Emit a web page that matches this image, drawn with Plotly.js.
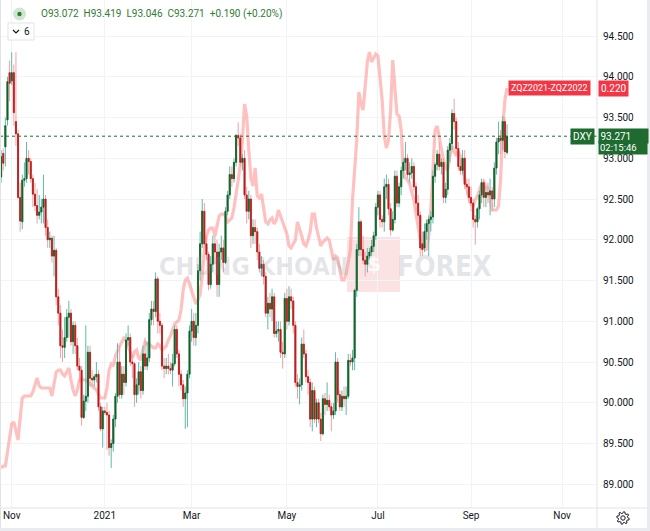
<!DOCTYPE html>
<html><head><meta charset="utf-8">
<script src="https://cdn.plot.ly/plotly-3.0.1.min.js"></script>
<style>html,body{margin:0;padding:0;background:#fff;}#chart{width:650px;height:531px;}</style>
</head><body><div id="chart"></div>
<script>
// ---------- DATA (daily bars, first bar 2020-10-26, weekdays only) ----------
const firstBar = '2020-10-26';
const openP = [
92.77,93.06,93.14,93.47,94.05, 93.95,94.05,93.45,93.30,92.52, 92.22,92.73,92.75,93.00,92.96, 92.75,92.56,92.42,92.30,92.34,
92.40,92.50,92.15,92.00,92.02, 91.80,91.87,91.30,91.10,90.70, 90.68,90.80,91.05,91.10,90.75, 90.95,90.70,90.45,90.40,89.82,
90.02,90.08,90.62,90.30,90.28, 90.32,90.35,89.95,89.68,89.90, 89.88,89.85,89.45,89.50,89.80, 90.08,90.50,90.10,90.35,90.25,
90.77,90.80,90.50,90.48,90.10, 90.22,90.38,90.15,90.60,90.45, 90.55,91.02,91.15,91.12,91.52, 91.00,90.95,90.45,90.42,90.45,
90.42,90.40,90.48,90.90,90.60, 90.35,90.22,90.05,90.12,90.35, 90.88,91.00,90.80,90.95,91.62, 91.95,92.35,91.95,91.82,91.45,
91.70,91.95,91.85,91.45,91.85, 91.90,91.72,92.35,92.55,92.80, 92.75,92.95,93.28,93.25,92.95, 93.00,92.55,92.35,92.50,92.05,
92.15,92.10,91.85,91.65,91.70, 91.55,91.10,91.22,91.15,91.30, 90.85,90.88,90.90,90.62,90.60, 91.28,91.00,91.30,91.25,90.95,
90.25,90.20,90.22,90.72,90.60, 90.32,90.25,89.80,90.15,89.80, 90.00,89.80,89.62,90.05,89.98, 90.03,89.95,89.85,89.90,90.50,
90.10,89.95,90.08,90.05,90.08, 90.52,90.50,90.55,91.38,91.88, 92.22,91.88,91.75,91.70,91.80, 91.85,91.92,92.05,92.40,92.55,
92.25,92.22,92.65,92.68,92.38, 92.12,92.25,92.78,92.45,92.65, 92.85,92.95,93.00,92.80,92.82, 92.90,92.65,92.45,92.30,91.95,
91.90,92.10,92.20,92.25,92.28, 92.78,92.92,93.05,92.90,92.95, 92.52,92.62,93.10,93.18,93.55, 93.45,93.12,92.90,92.85,93.00,
92.68,92.65,92.52,92.45,92.25, 92.22,92.38,92.55,92.70,92.52, 92.58,92.55,92.60,92.50,92.88, 93.20,93.25,93.22,93.45,93.072
];
const highP = [
93.10,93.12,93.50,94.00,94.20, 94.30,94.15,94.30,93.35,92.70, 92.80,92.95,93.20,93.10,93.00, 92.80,92.70,92.62,92.55,92.50,
92.80,92.55,92.25,92.10,92.05, 92.05,91.90,91.40,91.20,90.90, 91.05,91.15,91.25,91.15,91.00, 91.00,90.80,90.55,90.45,90.10,
90.95,90.70,90.70,90.40,90.35, 90.50,90.40,90.00,89.95,89.95, 90.00,89.90,89.55,89.85,90.12, 90.73,90.70,90.45,90.45,90.85,
90.95,90.85,90.60,90.50,90.30, 90.50,90.45,90.70,90.80,90.75, 91.10,91.25,91.25,91.60,91.55, 91.10,90.98,90.55,90.55,90.60,
90.50,90.60,90.95,90.95,90.65, 90.40,90.28,90.20,90.40,90.95, 91.15,91.10,91.10,91.70,92.10, 92.50,92.45,92.05,91.85,91.80,
92.05,92.05,92.00,91.95,92.05, 92.00,92.40,92.60,92.90,92.90, 93.00,93.30,93.44,93.30,93.05, 93.10,92.65,92.60,92.55,92.25,
92.25,92.15,91.95,91.80,91.75, 91.60,91.30,91.35,91.40,91.35, 91.00,91.00,91.00,90.75,91.35, 91.40,91.43,91.40,91.30,91.00,
90.35,90.30,90.80,90.90,90.65, 90.40,90.30,90.25,90.20,90.05, 90.05,89.88,90.10,90.12,90.25, 90.10,90.00,90.00,90.62,90.55,
90.15,90.15,90.20,90.20,90.60, 90.60,90.65,91.40,91.95,92.40, 92.25,92.05,91.85,91.90,91.90, 92.00,92.10,92.45,92.60,92.60,
92.30,92.75,92.80,92.75,92.45, 92.35,92.85,92.85,92.70,92.90, 93.00,93.20,93.05,92.95,93.00, 92.95,92.70,92.55,92.35,92.10,
92.20,92.25,92.30,92.35,92.85, 92.95,93.10,93.20,93.00,93.00, 92.70,93.15,93.25,93.60,93.73, 93.50,93.20,93.00,93.10,93.10,
92.75,92.75,92.65,92.50,92.30, 92.40,92.60,92.75,92.75,92.65, 92.70,92.75,92.65,92.95,93.25, 93.45,93.35,93.52,93.50,93.419
];
const lowP = [
92.70,92.85,92.90,93.40,93.70, 93.90,93.40,93.15,92.50,92.10, 92.13,92.65,92.70,92.80,92.70, 92.40,92.35,92.20,92.25,92.20,
92.20,92.05,91.90,91.90,91.72, 91.55,91.20,90.95,90.55,90.50, 90.55,90.75,90.80,90.70,90.60, 90.60,90.40,90.25,89.72,89.80,
89.90,90.00,90.20,90.20,90.20, 90.25,89.90,89.65,89.45,89.85, 89.42,89.35,89.20,89.40,89.70, 90.00,90.05,90.05,90.10,90.20,
90.70,90.45,90.30,89.95,90.00, 90.10,90.05,90.10,90.40,90.40, 90.50,90.95,90.95,91.05,90.85, 90.85,90.40,90.30,90.35,90.35,
90.35,90.20,90.45,90.55,90.20, 90.15,89.95,89.68,89.70,90.30, 90.75,90.70,90.70,90.85,91.50, 91.90,91.90,91.75,91.38,91.40,
91.60,91.70,91.30,91.30,91.75, 91.60,91.70,92.30,92.50,92.65, 92.70,92.90,93.15,92.90,92.85, 92.50,92.20,92.25,91.90,91.95,
91.95,91.75,91.60,91.55,91.45, 91.05,90.90,91.05,91.00,90.80, 90.80,90.75,90.55,90.42,90.55, 90.90,90.95,91.15,90.85,90.20,
90.05,89.98,90.15,90.55,90.25, 90.10,89.70,89.65,89.75,89.70, 89.75,89.53,89.60,89.85,89.90, 89.90,89.65,89.80,89.85,90.00,
89.90,89.90,89.95,89.85,90.05, 90.45,90.40,90.40,91.30,91.80, 91.80,91.70,91.55,91.60,91.70, 91.80,91.85,92.00,92.30,92.15,
92.15,92.10,92.50,92.30,92.05, 92.10,92.20,92.40,92.40,92.55, 92.75,92.85,92.75,92.70,92.75, 92.60,92.35,92.25,91.80,91.80,
91.85,92.00,91.80,92.10,92.20, 92.70,92.85,92.85,92.80,92.45, 92.45,92.55,92.95,93.10,93.35, 93.05,92.85,92.80,92.80,92.62,
92.55,92.45,92.35,92.15,91.94, 92.15,92.25,92.45,92.40,92.40, 92.45,92.30,92.35,92.40,92.80, 93.05,93.05,93.10,93.00,93.046
];
const closeP = [
93.02,92.94,93.40,93.94,93.92, 94.05,93.56,93.30,92.52,92.23, 92.73,92.75,93.00,92.96,92.75, 92.56,92.42,92.30,92.34,92.40,
92.50,92.15,92.00,92.02,91.80, 91.87,91.30,91.10,90.70,90.68, 90.80,91.05,91.10,90.75,90.95, 90.70,90.45,90.40,89.82,90.02,
90.08,90.62,90.30,90.28,90.32, 90.35,89.95,89.68,89.90,89.88, 89.85,89.45,89.50,89.80,90.08, 90.50,90.10,90.35,90.25,90.77,
90.80,90.50,90.48,90.10,90.22, 90.38,90.15,90.60,90.45,90.55, 91.02,91.15,91.12,91.52,91.00, 90.95,90.45,90.42,90.45,90.42,
90.40,90.48,90.90,90.60,90.35, 90.22,90.05,90.12,90.35,90.88, 91.00,90.80,90.95,91.62,91.95, 92.35,91.95,91.82,91.45,91.70,
91.95,91.85,91.45,91.85,91.90, 91.72,92.35,92.55,92.80,92.75, 92.95,93.28,93.25,92.95,93.00, 92.55,92.35,92.50,92.05,92.15,
92.10,91.85,91.65,91.70,91.55, 91.10,91.22,91.15,91.30,90.85, 90.88,90.90,90.62,90.60,91.28, 91.00,91.30,91.25,90.95,90.25,
90.20,90.22,90.72,90.60,90.32, 90.25,89.80,90.15,89.80,90.00, 89.80,89.62,90.05,89.98,90.03, 89.95,89.85,89.90,90.50,90.10,
89.95,90.08,90.05,90.08,90.52, 90.50,90.55,91.38,91.88,92.22, 91.88,91.75,91.70,91.80,91.85, 91.92,92.05,92.40,92.55,92.25,
92.22,92.65,92.68,92.38,92.12, 92.25,92.78,92.45,92.65,92.85, 92.95,93.00,92.80,92.82,92.90, 92.65,92.45,92.30,91.90,91.88,
92.10,92.20,92.25,92.28,92.78, 92.92,93.05,92.90,92.95,92.52, 92.62,93.10,93.18,93.55,93.45, 93.12,92.90,92.85,93.00,92.68,
92.65,92.52,92.45,92.25,92.22, 92.38,92.55,92.70,92.52,92.58, 92.55,92.60,92.50,92.88,93.20, 93.25,93.22,93.45,93.081,93.271
];
// ZQZ2021-ZQZ2022 spread, same bars
const spread = [
0.030,0.031,0.031,0.038,0.045, 0.052,0.053,0.049,0.044,0.055, 0.065,0.066,0.066,0.066,0.066, 0.068,0.071,0.075,0.071,0.070,
0.070,0.070,0.070,0.070,0.066, 0.072,0.078,0.079,0.079,0.077, 0.076,0.078,0.080,0.074,0.069, 0.066,0.069,0.074,0.075,0.074,
0.074,0.073,0.072,0.071,0.070, 0.069,0.067,0.065,0.065,0.065, 0.070,0.079,0.082,0.081,0.086, 0.089,0.091,0.093,0.095,0.094,
0.091,0.088,0.085,0.088,0.089, 0.085,0.084,0.089,0.093,0.092, 0.092,0.091,0.090,0.090,0.092, 0.091,0.089,0.090,0.091,0.094,
0.096,0.099,0.102,0.103,0.104, 0.109,0.119,0.124,0.125,0.122, 0.119,0.115,0.112,0.114,0.117, 0.126,0.139,0.146,0.149,0.150,
0.150,0.146,0.151,0.156,0.157, 0.157,0.156,0.153,0.154,0.155, 0.160,0.166,0.174,0.182,0.194, 0.212,0.206,0.189,0.175,0.171,
0.180,0.166,0.165,0.167,0.159, 0.153,0.152,0.154,0.155,0.152, 0.154,0.159,0.156,0.153,0.149, 0.147,0.141,0.140,0.142,0.144,
0.153,0.150,0.146,0.142,0.141, 0.144,0.148,0.157,0.157,0.150, 0.145,0.141,0.143,0.144,0.145, 0.144,0.139,0.134,0.136,0.135,
0.129,0.124,0.124,0.127,0.133, 0.139,0.164,0.179,0.194,0.218, 0.212,0.209,0.221,0.233,0.238, 0.233,0.235,0.237,0.236,0.224,
0.214,0.196,0.190,0.194,0.209, 0.234,0.221,0.207,0.206,0.199, 0.178,0.175,0.174,0.172,0.168, 0.164,0.157,0.150,0.144,0.140,
0.140,0.139,0.146,0.159,0.181, 0.199,0.201,0.195,0.188,0.184, 0.180,0.179,0.186,0.191,0.188, 0.186,0.188,0.186,0.181,0.174,
0.170,0.165,0.162,0.161,0.164, 0.166,0.169,0.172,0.173,0.171, 0.170,0.164,0.159,0.159,0.159, 0.161,0.175,0.201,0.214,0.220
];
const tickDates = ['2020-11-02','2021-01-01','2021-03-01','2021-05-03','2021-07-01','2021-09-01','2021-11-01'];
const tickLabels = ['Nov','2021','Mar','May','Jul','Sep','Nov'];
const priceTicks = [89.0,89.5,90.0,90.5,91.0,91.5,92.0,92.5,93.0,93.5,94.0,94.5];
const spreadName = 'ZQZ2021-ZQZ2022';
const symbolName = 'DXY';
const barTimer = '02:15:46';

// ---------- calendar of trading days ----------
function weekdays(start, n){
  const out=[]; const d=new Date(start+'T00:00:00Z');
  while(out.length<n){ const w=d.getUTCDay(); if(w!==0&&w!==6) out.push(d.toISOString().slice(0,10)); d.setUTCDate(d.getUTCDate()+1); }
  return out;
}
const dates = weekdays(firstBar, openP.length);
const bodyHi = openP.map((o,i)=>Math.max(o,closeP[i]));
const bodyLo = openP.map((o,i)=>Math.min(o,closeP[i]));

// ---------- pixel helpers for decorations ----------
const PW=597, PH=508;
const px = x => x/PW;
const py = y => (PH-y)/PH;

const last = closeP.length-1;
const chg = closeP[last]-closeP[last-1];
const pct = chg/closeP[last-1]*100;
const sg = v => (v>=0?'+':'');
const sp = '\u00a0';
const legendText = 'O'+openP[last].toFixed(3)+sp+sp+'H'+highP[last].toFixed(3)+sp+sp+'L'+lowP[last].toFixed(3)+sp+sp+'C'+closeP[last].toFixed(3)+sp+sp+sg(chg)+chg.toFixed(3)+sp+'('+sg(pct)+pct.toFixed(2)+'%)';

function gearPath(cx,cy){
  let d=''; const n=32;
  for(let k=0;k<n;k++){
    const a=2*Math.PI*(k+0.5)/n; const r=(k%4<2)?6.3:4.6;
    const X=cx+r*Math.cos(a), Y=cy+r*Math.sin(a);
    d+=(k===0?'M':'L')+px(X)+','+py(Y)+' ';
  }
  return d+'Z';
}

const traces = [
  {type:'scatter', mode:'lines', x:dates, y:spread, yaxis:'y', xaxis:'x',
   line:{color:'rgba(255,140,140,0.55)', width:3.2}, hoverinfo:'skip'},
  {type:'candlestick', x:dates, open:openP, high:highP, low:lowP, close:closeP, yaxis:'y2', xaxis:'x',
   increasing:{line:{color:'#5fb9ab', width:1}, fillcolor:'#5fb9ab'},
   decreasing:{line:{color:'#f3a0a0', width:1}, fillcolor:'#f3a0a0'},
   whiskerwidth:0, hoverinfo:'skip'},
  {type:'candlestick', x:dates, open:openP, high:bodyHi, low:bodyLo, close:closeP, yaxis:'y2', xaxis:'x',
   increasing:{line:{color:'#1b5e20', width:0.8}, fillcolor:'#1b5e20'},
   decreasing:{line:{color:'#b71c1c', width:0.8}, fillcolor:'#b71c1c'},
   whiskerwidth:0, hoverinfo:'skip'}
];

const wmColor = 'rgba(135,138,150,0.22)';
const wmFamily = 'Liberation Sans Narrow, DejaVu Sans Condensed, sans-serif';
const boxFont = {family:'Roboto, sans-serif', size:10, color:'#ffffff'};

const layout = {
  width:650, height:531, autosize:false,
  margin:{l:0, r:53, t:0, b:23, pad:0},
  paper_bgcolor:'#ffffff', plot_bgcolor:'#ffffff',
  showlegend:false, hovermode:false, dragmode:false,
  xaxis:{type:'date', range:['2020-10-23 11:17','2021-11-23 12:00'],
    rangebreaks:[{bounds:['sat','mon']}],
    tickvals:tickDates, ticktext:tickLabels, tickmode:'array',
    showgrid:true, gridcolor:'#f0f3fa', gridwidth:1, zeroline:false, showline:false, ticks:'',
    tickfont:{family:'Roboto, sans-serif', size:10, color:'#131722'}, rangeslider:{visible:false}},
  yaxis:{range:[0.010,0.264], visible:false, showgrid:false, zeroline:false, fixedrange:true},
  yaxis2:{overlaying:'y', side:'right', range:[88.709,94.942], tickmode:'array', tickvals:priceTicks,
    tickformat:'.3f', showgrid:true, gridcolor:'#f0f3fa', gridwidth:1, zeroline:false, showline:false, ticks:'',
    ticklabelstandoff:5,
    tickfont:{family:'Roboto, sans-serif', size:10, color:'#131722'}},
  shapes:[
    {type:'rect', xref:'paper', yref:'paper', x0:px(347), x1:px(400), y0:py(292), y1:py(237), fillcolor:'rgba(239,83,80,0.16)', line:{width:0}, layer:'below'},
    {type:'line', xref:'paper', yref:'y2', x0:0, x1:1, y0:closeP[last], y1:closeP[last], line:{color:'#1e6b30', width:1, dash:'dot'}},
    {type:'line', xref:'paper', yref:'paper', x0:0, x1:px(650), y0:0, y1:0, line:{color:'#e0e3eb', width:1}},
    {type:'line', xref:'paper', yref:'paper', x0:1, x1:1, y0:py(531), y1:1, line:{color:'#e0e3eb', width:1}},
    {type:'line', xref:'paper', yref:'paper', x0:px(0.5), x1:px(0.5), y0:py(531), y1:1, line:{color:'#e0e3eb', width:1}},
    {type:'line', xref:'paper', yref:'paper', x0:px(648.5), x1:px(648.5), y0:py(531), y1:1, line:{color:'#e9ebf0', width:3}},
    {type:'line', xref:'paper', yref:'paper', x0:0, x1:px(650), y0:py(529.5), y1:py(529.5), line:{color:'#e9ebf0', width:3}},
    {type:'circle', xref:'paper', yref:'paper', x0:px(13), x1:px(26), y0:py(20.5), y1:py(7.5), fillcolor:'#cfe6d3', line:{width:0}},
    {type:'circle', xref:'paper', yref:'paper', x0:px(17.3), x1:px(21.7), y0:py(16.2), y1:py(11.8), fillcolor:'#2e7d32', line:{width:0}},
    {type:'rect', xref:'paper', yref:'paper', x0:px(8), x1:px(34), y0:py(40), y1:py(23), fillcolor:'#ffffff', line:{color:'#e0e3eb', width:1}},
    {type:'path', xref:'paper', yref:'paper', path:'M'+px(13)+','+py(30)+' L'+px(16)+','+py(33)+' L'+px(19)+','+py(30), line:{color:'#131722', width:1.2}},
    {type:'path', xref:'paper', yref:'paper', path:gearPath(623,518), line:{color:'#131722', width:1}, fillcolor:'rgba(0,0,0,0)'},
    {type:'circle', xref:'paper', yref:'paper', x0:px(620.8), x1:px(625.2), y0:py(520.2), y1:py(515.8), line:{color:'#131722', width:1}}
  ],
  annotations:[
    {xref:'paper', yref:'paper', x:px(39), y:py(14.5), xanchor:'left', yanchor:'middle', showarrow:false, text:legendText,
     font:{family:'Roboto, sans-serif', size:10, color:'#2e7d32'}},
    {xref:'paper', yref:'paper', x:px(27), y:py(31.5), xanchor:'center', yanchor:'middle', showarrow:false, text:'6',
     font:{family:'Roboto, sans-serif', size:10, color:'#131722'}},
    {xref:'paper', yref:'paper', x:px(254), y:py(266), xanchor:'center', yanchor:'middle', showarrow:false, text:'CHUNG KHOAN',
     font:{family:wmFamily, size:25, weight:700, color:wmColor}},
    {xref:'paper', yref:'paper', x:px(373.5), y:py(264), xanchor:'center', yanchor:'middle', showarrow:false, text:'$',
     font:{family:'DejaVu Sans, sans-serif', size:20, weight:700, color:'rgba(255,255,255,0.85)'}},
    {xref:'paper', yref:'paper', x:px(444), y:py(266), xanchor:'center', yanchor:'middle', showarrow:false, text:'FOREX',
     font:{family:wmFamily, size:28, weight:700, color:wmColor}},
    {xref:'paper', yref:'y', x:px(591), y:spread[last], xanchor:'right', yanchor:'middle', showarrow:false, text:spreadName,
     bgcolor:'#f23645', borderpad:2, font:{family:'Roboto, sans-serif', size:9, color:'#ffffff'}},
    {xref:'paper', yref:'y', x:px(598), y:spread[last], xanchor:'left', yanchor:'middle', showarrow:false, text:spread[last].toFixed(3),
     bgcolor:'#f23645', borderpad:2, font:boxFont},
    {xref:'paper', yref:'y2', x:px(595), y:closeP[last], xanchor:'right', yanchor:'middle', showarrow:false, text:symbolName,
     bgcolor:'#1e6b30', borderpad:2, font:boxFont},
    {xref:'paper', yref:'y2', x:px(598), y:closeP[last], xanchor:'left', yanchor:'middle', showarrow:false,
     text:closeP[last].toFixed(3), bgcolor:'#1e6b30', borderpad:1.5, width:46, align:'left', font:boxFont},
    {xref:'paper', yref:'y2', x:px(598), y:closeP[last], xanchor:'left', yanchor:'middle', yshift:-11, showarrow:false,
     text:barTimer, bgcolor:'#1e6b30', borderpad:1, width:46, align:'left', font:{family:'Roboto, sans-serif', size:9.5, color:'#ffffff'}}
  ]
};

Plotly.newPlot('chart', traces, layout, {staticPlot:true, displayModeBar:false});
</script>
</body></html>
